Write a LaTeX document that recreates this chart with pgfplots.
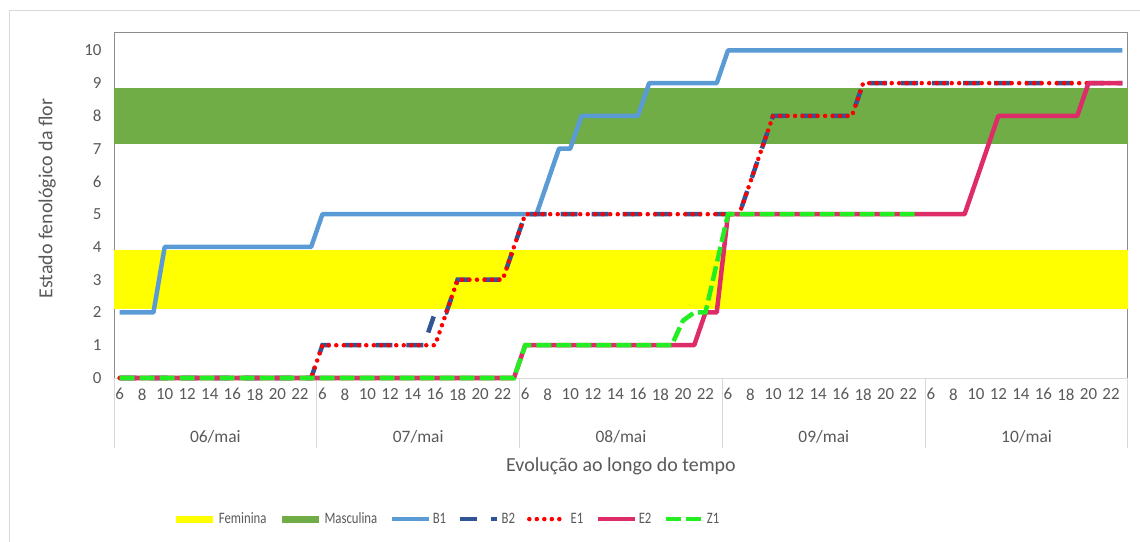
\documentclass[border=0pt]{standalone}
\usepackage{fontspec}
\setmainfont{Carlito}
\usepackage{graphicx}
\usepackage{pgfplots}
\usepackage{pgfplotstable}
\pgfplotsset{compat=1.18}

\definecolor{fem}{HTML}{FFFF00}
\definecolor{masc}{HTML}{70AD47}
\definecolor{cB1}{HTML}{5B9BD5}
\definecolor{cB2}{HTML}{2F5597}
\definecolor{cE1}{HTML}{FF0000}
\definecolor{cE2}{HTML}{DE2C68}
\definecolor{cZ1}{HTML}{22EE22}
\definecolor{txt}{HTML}{595959}
\definecolor{sepc}{HTML}{D9D9D9}
\definecolor{framec}{HTML}{8C8C8C}

% hourly readings, 06/mai 6h .. 10/mai 23h (18 per day)
\pgfplotstableread{
i  B1 B2 E1 E2 Z1
0  2  0  0  0  0
1  2  0  0  0  0
2  2  0  0  0  0
3  2  0  0  0  0
4  4  0  0  0  0
5  4  0  0  0  0
6  4  0  0  0  0
7  4  0  0  0  0
8  4  0  0  0  0
9  4  0  0  0  0
10 4  0  0  0  0
11 4  0  0  0  0
12 4  0  0  0  0
13 4  0  0  0  0
14 4  0  0  0  0
15 4  0  0  0  0
16 4  0  0  0  0
17 4  0  0  0  0
18 5  1  1  0  0
19 5  1  1  0  0
20 5  1  1  0  0
21 5  1  1  0  0
22 5  1  1  0  0
23 5  1  1  0  0
24 5  1  1  0  0
25 5  1  1  0  0
26 5  1  1  0  0
27 5  1  1  0  0
28 5  2  1  0  0
29 5  2  2  0  0
30 5  3  3  0  0
31 5  3  3  0  0
32 5  3  3  0  0
33 5  3  3  0  0
34 5  3  3  0  0
35 5  4  4  0  0
36 5  5  5  1  1
37 5  5  5  1  1
38 6  5  5  1  1
39 7  5  5  1  1
40 7  5  5  1  1
41 8  5  5  1  1
42 8  5  5  1  1
43 8  5  5  1  1
44 8  5  5  1  1
45 8  5  5  1  1
46 8  5  5  1  1
47 9  5  5  1  1
48 9  5  5  1  1
49 9  5  5  1  1
50 9  5  5  1  1.75
51 9  5  5  1  2
52 9  5  5  2  2
53 9  5  5  2  3.5
54 10 5  5  5  5
55 10 5  5  5  5
56 10 6  6  5  5
57 10 7  7  5  5
58 10 8  8  5  5
59 10 8  8  5  5
60 10 8  8  5  5
61 10 8  8  5  5
62 10 8  8  5  5
63 10 8  8  5  5
64 10 8  8  5  5
65 10 8  8  5  5
66 10 9  9  5  5
67 10 9  9  5  5
68 10 9  9  5  5
69 10 9  9  5  5
70 10 9  9  5  5
71 10 9  9  5  5
72 10 9  9  5  nan
73 10 9  9  5  nan
74 10 9  9  5  nan
75 10 9  9  5  nan
76 10 9  9  6  nan
77 10 9  9  7  nan
78 10 9  9  8  nan
79 10 9  9  8  nan
80 10 9  9  8  nan
81 10 9  9  8  nan
82 10 9  9  8  nan
83 10 9  9  8  nan
84 10 9  9  8  nan
85 10 9  9  8  nan
86 10 9  9  9  nan
87 10 9  9  9  nan
88 10 9  9  9  nan
89 10 9  9  9  nan
}\tbl

\newcommand{\legtxt}[1]{\scalebox{0.8}[1]{#1}}

\begin{document}
\begin{tikzpicture}
\useasboundingbox (0,0) rectangle (1140bp,542bp);
\draw[sepc, line width=1bp] (9bp,0bp) -- (9bp,531bp) -- (1140bp,531bp);
\begin{axis}[
    at={(114bp,164bp)}, anchor=south west,
    scale only axis, width=1014bp, height=345bp,
    xmin=-0.5, xmax=89.5, ymin=0, ymax=10.53,
    clip=false,
    axis line style={draw=none},
    major tick length=0pt,
    xtick pos=bottom, ytick pos=left,
    xtick={0,2,...,88},
    xticklabels={6,8,10,12,14,16,18,20,22,6,8,10,12,14,16,18,20,22,6,8,10,12,14,16,18,20,22,6,8,10,12,14,16,18,20,22,6,8,10,12,14,16,18,20,22},
    ytick={0,1,...,10},
    /pgf/number format/assume math mode=true,
    tick label style={font=\fontsize{17}{17}\selectfont, text=txt},
    xticklabel style={yshift=-7bp},
    yticklabel style={xshift=-9bp},
    xlabel={Evolução ao longo do tempo},
    ylabel={Estado fenológico da flor},
    label style={font=\fontsize{20}{20}\selectfont, text=txt},
    xlabel style={at={(axis description cs:0.5,-0.255)}, anchor=center},
    ylabel style={at={(axis description cs:-0.066,0.52)}, anchor=center},
    legend columns=-1,
    legend image code/.code={\draw[#1] (0bp,0bp) -- (37bp,0bp);},
    legend style={draw=none, fill=none, at={(axis description cs:0.055,-0.409)}, anchor=west,
        font=\fontsize{16}{16}\selectfont, text=txt,
        nodes={inner xsep=2bp, inner ysep=1bp},
        /tikz/every even column/.append style={column sep=10bp}},
]
% plot frame and category separators
\draw[framec, line width=1bp] (rel axis cs:0,0) -- (rel axis cs:0,1) -- (rel axis cs:1,1) -- (rel axis cs:1,0);
\draw[sepc, line width=1bp] (rel axis cs:0,0) -- (rel axis cs:1,0);
\pgfplotsinvokeforeach{-0.5,17.5,35.5,53.5,71.5,89.5}{
    \draw[sepc, line width=1bp] (axis cs:#1,0) -- (axis cs:#1,-2.14);
}

\addplot[fill=fem, draw=none,
    legend image code/.code={\draw[fem, line width=7bp] (0bp,0bp) -- (37bp,0bp);}]
    coordinates {(-0.5,2.1) (89.5,2.1) (89.5,3.9) (-0.5,3.9)} -- cycle;
\addplot[fill=masc, draw=none,
    legend image code/.code={\draw[masc, line width=7bp] (0bp,0bp) -- (37bp,0bp);}]
    coordinates {(-0.5,7.15) (89.5,7.15) (89.5,8.85) (-0.5,8.85)} -- cycle;

\addplot[cB1, line width=4.5bp, line join=round] table[x=i, y=B1] {\tbl};
\addplot[cB2, line width=4.5bp, dash pattern=on 17bp off 14bp] table[x=i, y=B2] {\tbl};
\addplot[cE1, line width=4.5bp, line cap=round, dash pattern=on 0bp off 7.5bp] table[x=i, y=E1] {\tbl};
\addplot[cE2, line width=4.5bp, line join=round] table[x=i, y=E2] {\tbl};
\addplot[cZ1, line width=4.5bp, dash pattern=on 15bp off 5bp] table[x=i, y=Z1] {\tbl};

\node[font=\fontsize{17.5}{17.5}\selectfont, text=txt] at (axis cs:8.5,-1.80) {06/mai};
\node[font=\fontsize{17.5}{17.5}\selectfont, text=txt] at (axis cs:26.5,-1.80) {07/mai};
\node[font=\fontsize{17.5}{17.5}\selectfont, text=txt] at (axis cs:44.5,-1.80) {08/mai};
\node[font=\fontsize{17.5}{17.5}\selectfont, text=txt] at (axis cs:62.5,-1.80) {09/mai};
\node[font=\fontsize{17.5}{17.5}\selectfont, text=txt] at (axis cs:80.5,-1.80) {10/mai};

\legend{\legtxt{Feminina},\legtxt{Masculina},\legtxt{B1},\legtxt{B2},\legtxt{E1},\legtxt{E2},\legtxt{Z1}}
\end{axis}
\end{tikzpicture}
\end{document}
